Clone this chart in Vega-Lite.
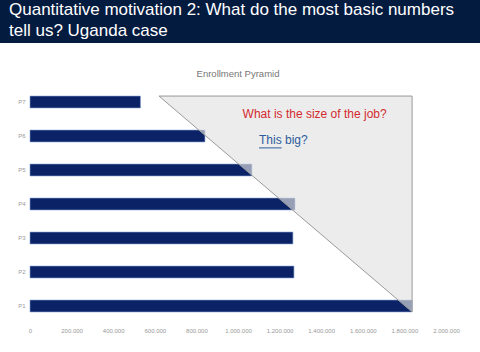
{
  "$schema": "https://vega.github.io/schema/vega-lite/v6.json",
  "padding": 0,
  "spacing": 25,
  "background": "white",
  "config": {
    "view": {"stroke": null},
    "font": "Liberation Sans",
    "locale": {"number": {"decimal": ",", "thousands": ".", "grouping": [3], "currency": ["", ""]}}
  },
  "vconcat": [
    {
      "width": 480,
      "height": 43,
      "view": {"fill": "#041b40", "stroke": null},
      "data": {"values": [
        {"pos": 0, "line": 1, "heading": "Quantitative motivation 2: What do the most basic numbers"},
        {"pos": 0, "line": 2, "heading": "tell us? Uganda case"}
      ]},
      "mark": {"type": "text", "align": "left", "baseline": "middle", "dx": 9, "dy": -1, "fontSize": 17, "color": "white"},
      "encoding": {
        "x": {"field": "pos", "type": "quantitative", "axis": null, "scale": {"domain": [0, 1], "nice": false}},
        "y": {"field": "line", "type": "ordinal", "axis": null, "scale": {"paddingInner": 0, "paddingOuter": 0.1}},
        "text": {"field": "heading"}
      }
    },
    {
      "width": 446,
      "height": 238,
      "title": {"text": "Enrollment Pyramid", "fontSize": 9.5, "fontWeight": "normal", "color": "#777777", "anchor": "middle", "offset": 7, "dx": 15},
      "resolve": {"scale": {"y": "independent"}},
      "layer": [
        {
          "data": {"values": [
            {"grade": "P7", "enrollment": 531000},
            {"grade": "P6", "enrollment": 841000},
            {"grade": "P5", "enrollment": 1067000},
            {"grade": "P4", "enrollment": 1274000},
            {"grade": "P3", "enrollment": 1264000},
            {"grade": "P2", "enrollment": 1269000},
            {"grade": "P1", "enrollment": 1837000}
          ]},
          "mark": {"type": "bar", "color": "#0b2366", "stroke": "#7f9fd0", "strokeWidth": 0.6},
          "encoding": {
            "y": {"field": "grade", "type": "nominal", "sort": ["P7", "P6", "P5", "P4", "P3", "P2", "P1"],
                  "scale": {"paddingInner": 0.65, "paddingOuter": 0.325},
                  "axis": {"title": null, "ticks": false, "domain": false, "offset": -30, "labelFontSize": 6, "labelColor": "#999999", "labelPadding": 5}},
            "x": {"field": "enrollment", "type": "quantitative",
                  "scale": {"domain": [0, 2000000], "nice": false, "range": [30, 446]},
                  "axis": {"title": null, "grid": false, "ticks": false, "domain": false, "format": ",.0f",
                           "values": [0, 200000, 400000, 600000, 800000, 1000000, 1200000, 1400000, 1600000, 1800000, 2000000],
                           "labelFontSize": 6, "labelColor": "#999999", "labelPadding": 4, "labelFlush": false, "labelOverlap": false}}
          }
        },
        {
          "layer": [
            {
              "data": {"values": [
                {"enrollment": 620000, "top": 7.175, "bottom": 7.175},
                {"enrollment": 1837000, "top": 7.175, "bottom": 0.825}
              ]},
              "mark": {"type": "area", "fill": "#e2e2e2", "fillOpacity": 0.65, "stroke": "#9a9a9a", "strokeWidth": 1},
              "encoding": {
                "x": {"field": "enrollment", "type": "quantitative"},
                "y": {"field": "top", "type": "quantitative", "scale": {"domain": [0.5, 7.5], "nice": false, "zero": false}, "axis": null},
                "y2": {"field": "bottom"}
              }
            },
            {
              "data": {"values": [{"enrollment": 1022000, "level": 6.66, "note": "What is the size of the job?"}]},
              "mark": {"type": "text", "align": "left", "baseline": "middle", "fontSize": 12, "color": "#d42a2f"},
              "encoding": {
                "x": {"field": "enrollment", "type": "quantitative"},
                "y": {"field": "level", "type": "quantitative"},
                "text": {"field": "note"}
              }
            },
            {
              "data": {"values": [{"enrollment": 1101000, "level": 5.87, "note": "This big?"}]},
              "mark": {"type": "text", "align": "left", "baseline": "middle", "fontSize": 12, "color": "#2d5c9c"},
              "encoding": {
                "x": {"field": "enrollment", "type": "quantitative"},
                "y": {"field": "level", "type": "quantitative"},
                "text": {"field": "note"}
              }
            },
            {
              "data": {"values": [{"start": 1101000, "end": 1210000, "level": 5.65}]},
              "mark": {"type": "rule", "color": "#2d5c9c", "strokeWidth": 1},
              "encoding": {
                "x": {"field": "start", "type": "quantitative"},
                "x2": {"field": "end"},
                "y": {"field": "level", "type": "quantitative"}
              }
            }
          ]
        }
      ]
    }
  ]
}
